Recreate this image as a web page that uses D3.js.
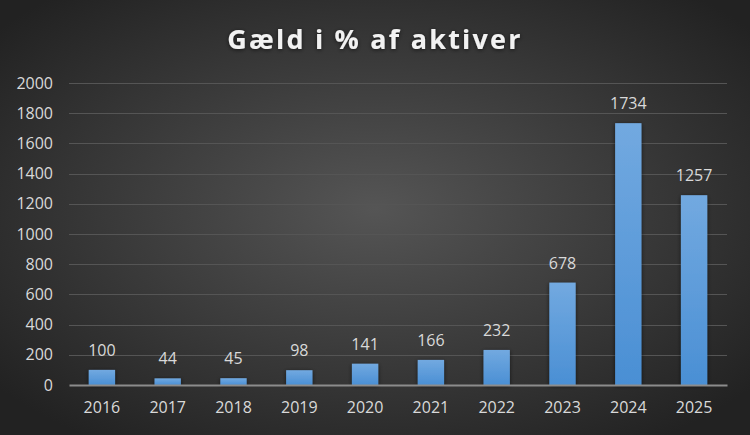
<!DOCTYPE html>
<html>
<head>
  <meta charset="utf-8">
  <script src="https://d3js.org/d3.v7.min.js"></script>
  <style>
    body { margin: 0; background: #2b2b2b; }
    text { font-family: "Open Sans", "Liberation Sans", sans-serif; }
  </style>
</head>
<body>
<script>
// chart data
var years = ["2016", "2017", "2018", "2019", "2020", "2021", "2022", "2023", "2024", "2025"];
var values = [100, 44, 45, 98, 141, 166, 232, 678, 1734, 1257];
var yTicks = [0, 200, 400, 600, 800, 1000, 1200, 1400, 1600, 1800, 2000];
var title = "Gæld i % af aktiver";

var width = 750, height = 435;
var plotLeft = 69, plotRight = 727, plotTop = 83, plotBottom = 385;

var svg = d3.select("body").append("svg")
    .attr("width", width)
    .attr("height", height);

var defs = svg.append("defs");

// dark radial background like the office theme
var bg = defs.append("radialGradient")
    .attr("id", "bg")
    .attr("cx", "50%").attr("cy", "48%").attr("r", "65%");
bg.append("stop").attr("offset", "0%").attr("stop-color", "#555555");
bg.append("stop").attr("offset", "100%").attr("stop-color", "#222222");

var barGrad = defs.append("linearGradient")
    .attr("id", "bar")
    .attr("x1", 0).attr("y1", 0).attr("x2", 0).attr("y2", 1);
barGrad.append("stop").attr("offset", "0%").attr("stop-color", "#72a9e0");
barGrad.append("stop").attr("offset", "100%").attr("stop-color", "#4a8fd4");

var shadow = defs.append("filter").attr("id", "shadow")
    .attr("x", "-30%").attr("y", "-30%").attr("width", "160%").attr("height", "160%");
shadow.append("feDropShadow")
    .attr("dx", 0).attr("dy", 1).attr("stdDeviation", 2)
    .attr("flood-color", "#000").attr("flood-opacity", 0.6);

svg.append("rect")
    .attr("width", width).attr("height", height)
    .attr("fill", "url(#bg)");

// title
svg.append("text")
    .attr("x", width / 2)
    .attr("y", 49)
    .attr("text-anchor", "middle")
    .style("font-size", "27px")
    .style("font-weight", "bold")
    .style("letter-spacing", "2.2px")
    .style("fill", "#f2f2f2")
    .attr("filter", "url(#shadow)")
    .text(title);

var x = d3.scaleBand()
    .domain(years)
    .range([plotLeft, plotRight])
    .paddingInner(0.6)
    .paddingOuter(0.3);

var y = d3.scaleLinear()
    .domain([0, 2000])
    .range([plotBottom, plotTop]);

// gridlines
svg.append("g")
  .selectAll("line")
  .data(yTicks.slice(1))
  .enter().append("line")
    .attr("x1", plotLeft).attr("x2", plotRight)
    .attr("y1", function (d) { return Math.round(y(d)) + 0.5; })
    .attr("y2", function (d) { return Math.round(y(d)) + 0.5; })
    .style("stroke", "#555555")
    .style("stroke-width", 1);

// y axis labels
var yAxis = d3.axisLeft(y).tickValues(yTicks).tickSize(0).tickPadding(16)
    .tickFormat(d3.format("d"));
var gy = svg.append("g")
    .attr("transform", "translate(" + plotLeft + ",0)")
    .call(yAxis);
gy.select(".domain").remove();
gy.selectAll("text")
    .style("font-size", "16px")
    .style("fill", "#d9d9d9");

// bars
svg.append("g")
  .selectAll("rect")
  .data(values)
  .enter().append("rect")
    .attr("x", function (d, i) { return x(years[i]); })
    .attr("y", function (d) { return y(d); })
    .attr("width", x.bandwidth())
    .attr("height", function (d) { return y(0) - y(d); })
    .attr("fill", "url(#bar)")
    .attr("filter", "url(#shadow)");

// x axis
var xAxis = d3.axisBottom(x).tickSize(0).tickPadding(17);
var gx = svg.append("g")
    .attr("transform", "translate(0," + plotBottom + ")")
    .call(xAxis);
gx.select(".domain")
    .style("stroke", "#8c8c8c")
    .style("stroke-width", 2);
gx.selectAll("text")
    .style("font-size", "16px")
    .style("fill", "#d9d9d9");

// data labels
svg.append("g")
  .selectAll("text")
  .data(values)
  .enter().append("text")
    .attr("x", function (d, i) { return x(years[i]) + x.bandwidth() / 2; })
    .attr("y", function (d) { return y(d) - 14; })
    .attr("text-anchor", "middle")
    .style("font-size", "16px")
    .style("fill", "#d9d9d9")
    .text(function (d) { return d; });
</script>
</body>
</html>
